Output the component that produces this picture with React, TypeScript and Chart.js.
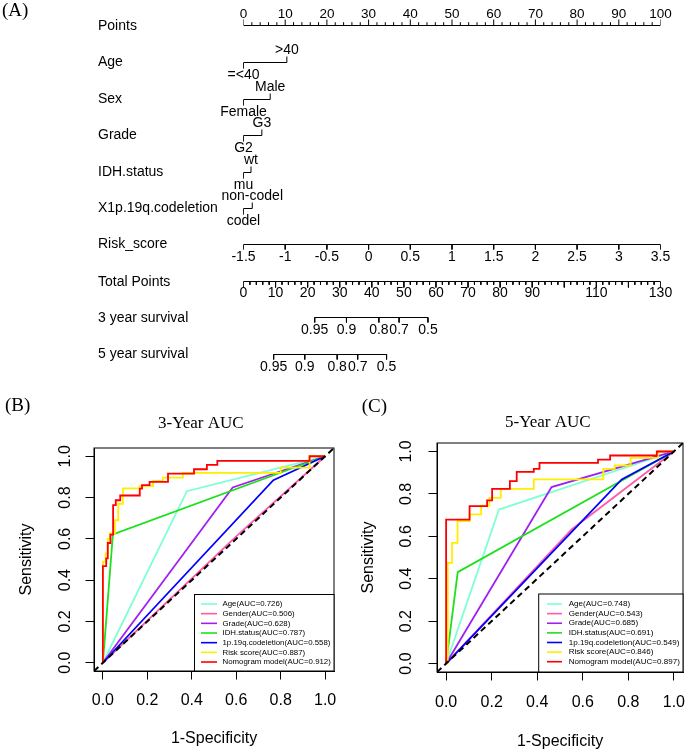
import React, { useEffect, useRef } from "react";
import { Chart, registerables } from "chart.js";

Chart.register(...registerables);

const SANS = '"Liberation Sans", Arial, Helvetica, sans-serif';
const SERIF = '"Liberation Serif", "Times New Roman", Times, serif';

/* ================= (A) Nomogram data ================= */
const pointsTicks = [0, 10, 20, 30, 40, 50, 60, 70, 80, 90, 100];
const ageLevels = ["=<40", ">40"];
const agePoints = [0, 10.4];
const sexLevels = ["Female", "Male"];
const sexPoints = [0, 6.4];
const gradeLevels = ["G2", "G3"];
const gradePoints = [0, 4.4];
const idhLevels = ["mu", "wt"];
const idhPoints = [0, 1.8];
const codelLevels = ["codel", "non-codel"];
const codelPoints = [0, 2.1];
const riskTicks = [-1.5, -1, -0.5, 0, 0.5, 1, 1.5, 2, 2.5, 3, 3.5];
const riskTickLabels = ["-1.5", "-1", "-0.5", "0", "0.5", "1", "1.5", "2", "2.5", "3", "3.5"];
const totalPointsRange = [0, 130];
const totalTickLabels = [0, 10, 20, 30, 40, 50, 60, 70, 80, 90, 110, 130];
const surv3Labels = ["0.95", "0.9", "0.8", "0.7", "0.5"];
const surv3TotalPoints = [22.2, 32.1, 42.2, 48.5, 57.5];
const surv5Labels = ["0.95", "0.9", "0.8", "0.7", "0.5"];
const surv5TotalPoints = [9.4, 19.1, 29.2, 35.6, 44.6];

/* ================= (B) 3-year ROC data ================= */
const bLegend = [
  "Age(AUC=0.726)",
  "Gender(AUC=0.506)",
  "Grade(AUC=0.628)",
  "IDH.status(AUC=0.787)",
  "1p.19q.codeletion(AUC=0.558)",
  "Risk score(AUC=0.887)",
  "Nomogram model(AUC=0.912)",
];
const bAgeFpr = [0, 0.378, 1];
const bAgeTpr = [0, 0.831, 1];
const bGenderFpr = [0, 0.6, 1];
const bGenderTpr = [0, 0.612, 1];
const bGradeFpr = [0, 0.584, 1];
const bGradeTpr = [0, 0.849, 1];
const bIdhFpr = [0, 0.045, 1];
const bIdhTpr = [0, 0.622, 1];
const bCodelFpr = [0, 0.767, 1];
const bCodelTpr = [0, 0.884, 1];
const bRiskFpr = [0, 0, 0.012, 0.012, 0.022, 0.022, 0.031, 0.031, 0.054, 0.054, 0.069, 0.069, 0.09, 0.09, 0.166, 0.166, 0.226, 0.226, 0.27, 0.27, 0.36, 0.36, 0.8, 0.8, 0.93, 0.93, 1];
const bRiskTpr = [0, 0.49, 0.49, 0.53, 0.53, 0.6, 0.6, 0.626, 0.626, 0.69, 0.69, 0.77, 0.77, 0.844, 0.844, 0.855, 0.855, 0.881, 0.881, 0.897, 0.897, 0.92, 0.92, 0.945, 0.945, 1, 1];
const bNomoFpr = [0, 0, 0.015, 0.015, 0.022, 0.022, 0.034, 0.034, 0.046, 0.046, 0.058, 0.058, 0.078, 0.078, 0.166, 0.166, 0.176, 0.176, 0.21, 0.21, 0.293, 0.293, 0.41, 0.41, 0.468, 0.468, 0.515, 0.515, 0.93, 0.93, 1];
const bNomoTpr = [0, 0.468, 0.468, 0.505, 0.505, 0.58, 0.58, 0.62, 0.62, 0.763, 0.763, 0.787, 0.787, 0.81, 0.81, 0.843, 0.843, 0.86, 0.86, 0.876, 0.876, 0.916, 0.916, 0.937, 0.937, 0.958, 0.958, 0.978, 0.978, 1, 1];

/* ================= (C) 5-year ROC data ================= */
const cLegend = [
  "Age(AUC=0.748)",
  "Gender(AUC=0.543)",
  "Grade(AUC=0.685)",
  "IDH.status(AUC=0.691)",
  "1p.19q.codeletion(AUC=0.549)",
  "Risk score(AUC=0.846)",
  "Nomogram model(AUC=0.897)",
];
const cAgeFpr = [0, 0.232, 1];
const cAgeTpr = [0, 0.726, 1];
const cGenderFpr = [0, 0.551, 1];
const cGenderTpr = [0, 0.632, 1];
const cGradeFpr = [0, 0.463, 1];
const cGradeTpr = [0, 0.832, 1];
const cIdhFpr = [0, 0.051, 1];
const cIdhTpr = [0, 0.431, 1];
const cCodelFpr = [0, 0.771, 1];
const cCodelTpr = [0, 0.868, 1];
const cRiskFpr = [0, 0.007, 0.007, 0.026, 0.026, 0.05, 0.05, 0.103, 0.103, 0.154, 0.154, 0.19, 0.19, 0.24, 0.24, 0.385, 0.385, 0.69, 0.69, 0.74, 0.74, 0.81, 0.81, 0.93, 0.93, 1];
const cRiskTpr = [0, 0, 0.475, 0.475, 0.569, 0.569, 0.672, 0.672, 0.703, 0.703, 0.745, 0.745, 0.781, 0.781, 0.824, 0.824, 0.868, 0.868, 0.918, 0.918, 0.934, 0.934, 0.97, 0.97, 1, 1];
const cNomoFpr = [0, 0, 0.103, 0.103, 0.18, 0.18, 0.202, 0.202, 0.28, 0.28, 0.31, 0.31, 0.385, 0.385, 0.41, 0.41, 0.667, 0.667, 0.72, 0.72, 0.925, 0.925, 1];
const cNomoTpr = [0, 0.679, 0.679, 0.742, 0.742, 0.769, 0.769, 0.824, 0.824, 0.86, 0.86, 0.904, 0.904, 0.918, 0.918, 0.946, 0.946, 0.962, 0.962, 0.981, 0.981, 1, 1];

const AXIS_TICKS = [0, 0.2, 0.4, 0.6, 0.8, 1.0];
const AXIS_MIN = -0.04;
const AXIS_MAX = 1.04;

const SERIES_COLORS = ["#7FFFD4", "#FF5AAC", "#A020F0", "#1FE01F", "#0000FF", "#FFEE00", "#FF0000"];

/* ================= Nomogram layout ================= */
const NOMO_W = 685;
const NOMO_H = 380;
const NOMO_LEFT = 243.5;
const NOMO_RIGHT = 660.5;
const ROW_LABEL_X = 98;
const ROW_Y = {
  points: 25.5,
  age: 62.5,
  sex: 99.5,
  grade: 135.5,
  idh: 172.5,
  codel: 208.5,
  risk: 244.5,
  total: 281.5,
  s3: 317.5,
  s5: 354.5,
};

type Pt = { x: number; y: number | null };

function segments(list: number[][]): Pt[] {
  const out: Pt[] = [];
  for (const [x1, y1, x2, y2] of list) {
    out.push({ x: x1, y: y1 }, { x: x2, y: y2 }, { x: x2, y: null });
  }
  return out;
}

function axisDataset(data: Pt[], xAxisID: string) {
  return {
    data,
    xAxisID,
    yAxisID: "y",
    showLine: true,
    spanGaps: false,
    borderColor: "#000",
    borderWidth: 1,
    pointRadius: 0,
    pointHoverRadius: 0,
    tension: 0,
    fill: false,
  };
}

const factorRows = [
  { name: "Age", levels: ageLevels, points: agePoints, y: ROW_Y.age },
  { name: "Sex", levels: sexLevels, points: sexPoints, y: ROW_Y.sex },
  { name: "Grade", levels: gradeLevels, points: gradePoints, y: ROW_Y.grade },
  { name: "IDH.status", levels: idhLevels, points: idhPoints, y: ROW_Y.idh },
  { name: "X1p.19q.codeletion", levels: codelLevels, points: codelPoints, y: ROW_Y.codel },
];

function buildNomogramConfig(): any {
  const datasets: any[] = [];
  // Points axis
  {
    const y = ROW_Y.points;
    const lo = pointsTicks[0];
    const hi = pointsTicks[pointsTicks.length - 1];
    const segs: number[][] = [[lo, y, hi, y]];
    for (let v = lo; v <= hi; v += 2) segs.push([v, y, v, y - (v % 10 === 0 ? 6 : 3.3)]);
    datasets.push(axisDataset(segments(segs), "x"));
  }
  // factor rows
  for (const r of factorRows) {
    const p0 = r.points[0];
    const p1 = r.points[1];
    datasets.push(
      axisDataset(
        segments([
          [p0, r.y, p1, r.y],
          [p0, r.y, p0, r.y + 6],
          [p1, r.y, p1, r.y - 6],
        ]),
        "x"
      )
    );
  }
  // Risk score axis
  {
    const y = ROW_Y.risk;
    const segs: number[][] = [[riskTicks[0], y, riskTicks[riskTicks.length - 1], y]];
    for (const t of riskTicks) segs.push([t, y, t, y + 5]);
    datasets.push(axisDataset(segments(segs), "xr"));
  }
  // Total points axis
  {
    const y = ROW_Y.total;
    const segs: number[][] = [[totalPointsRange[0], y, totalPointsRange[1], y]];
    for (let v = totalPointsRange[0]; v <= totalPointsRange[1]; v += 2) segs.push([v, y, v, y + (v % 10 === 0 ? 6 : 3.3)]);
    datasets.push(axisDataset(segments(segs), "xt"));
  }
  // survival axes
  for (const [pts, y] of [
    [surv3TotalPoints, ROW_Y.s3],
    [surv5TotalPoints, ROW_Y.s5],
  ] as [number[], number][]) {
    const segs: number[][] = [[pts[0], y, pts[pts.length - 1], y]];
    for (const p of pts) segs.push([p, y, p, y + 5]);
    datasets.push(axisDataset(segments(segs), "xt"));
  }

  const nomoText = {
    id: "nomoText",
    afterDatasetsDraw(chart: any) {
      const ctx = chart.ctx as CanvasRenderingContext2D;
      const xs = chart.scales.x;
      const xt = chart.scales.xt;
      const xr = chart.scales.xr;
      ctx.save();
      ctx.fillStyle = "#000";
      ctx.textBaseline = "middle";
      ctx.textAlign = "left";
      ctx.font = `19px ${SERIF}`;
      ctx.fillText("(A)", 2, 11);

      ctx.font = `14px ${SANS}`;
      const rowNames: [string, number][] = [
        ["Points", ROW_Y.points + 1],
        ...factorRows.map((r) => [r.name, r.y] as [string, number]),
        ["Risk_score", ROW_Y.risk],
        ["Total Points", ROW_Y.total + 0.5],
        ["3 year survival", ROW_Y.s3 + 0.5],
        ["5 year survival", ROW_Y.s5 - 0.5],
      ];
      for (const [n, y] of rowNames) ctx.fillText(n, ROW_LABEL_X, y);

      ctx.textAlign = "center";
      ctx.font = `13.5px ${SANS}`;
      for (const v of pointsTicks) ctx.fillText(String(v), xs.getPixelForValue(v), ROW_Y.points - 11.5);

      ctx.font = `14px ${SANS}`;
      for (const r of factorRows) {
        ctx.fillText(r.levels[0], xs.getPixelForValue(r.points[0]), r.y + 13);
        ctx.fillText(r.levels[1], xs.getPixelForValue(r.points[1]), r.y - 12.5);
      }
      riskTicks.forEach((t, i) => ctx.fillText(riskTickLabels[i], xr.getPixelForValue(t), ROW_Y.risk + 13));
      for (const v of totalTickLabels) ctx.fillText(String(v), xt.getPixelForValue(v), ROW_Y.total + 12);
      surv3TotalPoints.forEach((p, i) => ctx.fillText(surv3Labels[i], xt.getPixelForValue(p), ROW_Y.s3 + 12.5));
      surv5TotalPoints.forEach((p, i) => ctx.fillText(surv5Labels[i], xt.getPixelForValue(p), ROW_Y.s5 + 12.3));
      ctx.restore();
    },
  };

  return {
    type: "scatter",
    data: { datasets },
    options: {
      responsive: false,
      animation: false,
      events: [],
      layout: { padding: { left: NOMO_LEFT, right: NOMO_W - NOMO_RIGHT, top: 0, bottom: 0 } },
      plugins: { legend: { display: false }, tooltip: { enabled: false } },
      scales: {
        x: { type: "linear", axis: "x", min: pointsTicks[0], max: pointsTicks[pointsTicks.length - 1], display: false },
        xt: { type: "linear", axis: "x", min: totalPointsRange[0], max: totalPointsRange[1], display: false },
        xr: { type: "linear", axis: "x", min: riskTicks[0], max: riskTicks[riskTicks.length - 1], display: false },
        y: { type: "linear", axis: "y", min: 0, max: NOMO_H, reverse: true, display: false },
      },
    },
    plugins: [nomoText],
  };
}

/* ================= ROC panels ================= */
type Series = { label: string; color: string; fpr: number[]; tpr: number[] };
type Panel = {
  left: number;
  top: number;
  width: number;
  height: number;
  title: string;
  titleX: number;
  titleY: number;
  tag: string;
  tagX: number;
  tagY: number;
  area: { left: number; top: number; right: number; bottom: number };
  tickLen: number;
  xTickPad: number;
  yTickPad: number;
  xTitlePad: number;
  yTitlePad: number;
  legend: { left: number; top: number; firstY: number; step: number; x0: number; x1: number; textX: number; fontSize: number };
  series: Series[];
};

function makeSeries(labels: string[], fprs: number[][], tprs: number[][]): Series[] {
  return labels.map((label, i) => ({ label, color: SERIES_COLORS[i], fpr: fprs[i], tpr: tprs[i] }));
}

const panelB: Panel = {
  left: 0,
  top: 380,
  width: 343,
  height: 372,
  title: "3-Year AUC",
  titleX: 200.8,
  titleY: 43.3,
  tag: "(B)",
  tagX: 5,
  tagY: 25.8,
  area: { left: 94, top: 68, right: 334, bottom: 291 },
  tickLen: 8.5,
  xTickPad: 11.9,
  yTickPad: 8.9,
  xTitlePad: 3.4,
  yTitlePad: 17.4,
  legend: { left: 194.5, top: 214.5, firstY: 224, step: 9.67, x0: 201, x1: 217, textX: 222.5, fontSize: 7.85 },
  series: makeSeries(
    bLegend,
    [bAgeFpr, bGenderFpr, bGradeFpr, bIdhFpr, bCodelFpr, bRiskFpr, bNomoFpr],
    [bAgeTpr, bGenderTpr, bGradeTpr, bIdhTpr, bCodelTpr, bRiskTpr, bNomoTpr]
  ),
};

const panelC: Panel = {
  left: 343,
  top: 380,
  width: 342,
  height: 372,
  title: "5-Year AUC",
  titleX: 204.8,
  titleY: 43,
  tag: "(C)",
  tagX: 18.7,
  tagY: 26.7,
  area: { left: 94, top: 63, right: 340, bottom: 292 },
  tickLen: 8.5,
  xTickPad: 12.2,
  yTickPad: 10.7,
  xTitlePad: 0.4,
  yTitlePad: 16.2,
  legend: { left: 195.7, top: 214, firstY: 224, step: 9.62, x0: 204, x1: 219, textX: 225.7, fontSize: 8.05 },
  series: makeSeries(
    cLegend,
    [cAgeFpr, cGenderFpr, cGradeFpr, cIdhFpr, cCodelFpr, cRiskFpr, cNomoFpr],
    [cAgeTpr, cGenderTpr, cGradeTpr, cIdhTpr, cCodelTpr, cRiskTpr, cNomoTpr]
  ),
};

function rocDecor(p: Panel) {
  return {
    id: "rocDecor",
    afterDatasetsDraw(chart: any) {
      const ctx = chart.ctx as CanvasRenderingContext2D;
      const a = chart.chartArea;
      ctx.save();
      ctx.strokeStyle = "#000";
      ctx.lineWidth = 1;
      ctx.strokeRect(a.left, a.top, a.right - a.left, a.bottom - a.top);

      const lg = p.legend;
      ctx.fillStyle = "#fff";
      ctx.fillRect(lg.left, lg.top, a.right - lg.left, a.bottom - lg.top);
      ctx.strokeStyle = "#000";
      ctx.strokeRect(lg.left, lg.top, a.right - lg.left, a.bottom - lg.top);
      ctx.font = `${lg.fontSize}px ${SANS}`;
      ctx.textBaseline = "middle";
      ctx.textAlign = "left";
      p.series.forEach((s, i) => {
        const y = lg.firstY + i * lg.step;
        ctx.strokeStyle = s.color;
        ctx.lineWidth = 1.6;
        ctx.beginPath();
        ctx.moveTo(lg.x0, y);
        ctx.lineTo(lg.x1, y);
        ctx.stroke();
        ctx.fillStyle = "#000";
        ctx.fillText(s.label, lg.textX, y);
      });

      ctx.fillStyle = "#000";
      ctx.font = `17px ${SERIF}`;
      ctx.textAlign = "center";
      ctx.fillText(p.title, p.titleX, p.titleY);
      ctx.font = `19px ${SERIF}`;
      ctx.textAlign = "left";
      ctx.fillText(p.tag, p.tagX, p.tagY);
      ctx.restore();
    },
  };
}

function rocConfig(p: Panel): any {
  const A = p.area;
  const n = p.series.length;
  const datasets: any[] = p.series.map((s, i) => ({
    label: s.label,
    data: s.fpr.map((f, k) => ({ x: f, y: s.tpr[k] })),
    borderColor: s.color,
    borderWidth: 1.8,
    showLine: true,
    pointRadius: 0,
    pointHoverRadius: 0,
    tension: 0,
    fill: false,
    order: n - i,
  }));
  datasets.push({
    label: "reference",
    data: [
      { x: AXIS_MIN, y: AXIS_MIN },
      { x: AXIS_MAX, y: AXIS_MAX },
    ],
    borderColor: "#000",
    borderWidth: 2,
    borderDash: [6, 4],
    showLine: true,
    pointRadius: 0,
    pointHoverRadius: 0,
    tension: 0,
    fill: false,
    order: 0,
  });
  const fixTicks = (s: any) => {
    s.ticks = AXIS_TICKS.map((v) => ({ value: v }));
  };
  const grid = { display: true, drawOnChartArea: false, drawTicks: true, tickLength: p.tickLen, color: "#000", lineWidth: 1 };
  const font = { family: SANS, size: 16 };
  return {
    type: "scatter",
    data: { datasets },
    options: {
      responsive: false,
      animation: false,
      events: [],
      layout: { padding: { left: 0, top: A.top, right: p.width - A.right, bottom: 0 } },
      plugins: { legend: { display: false }, tooltip: { enabled: false }, title: { display: false } },
      scales: {
        x: {
          type: "linear",
          position: "bottom",
          min: AXIS_MIN,
          max: AXIS_MAX,
          afterBuildTicks: fixTicks,
          afterFit: (s: any) => {
            s.height = p.height - A.bottom;
            s.paddingLeft = 0;
            s.paddingRight = 0;
          },
          grid,
          border: { display: true, color: "#000", width: 1 },
          ticks: {
            autoSkip: false,
            minRotation: 0,
            maxRotation: 0,
            padding: p.xTickPad,
            color: "#000",
            font,
            callback: (v: any) => Number(v).toFixed(1),
          },
          title: { display: true, text: "1-Specificity", color: "#000", font, padding: { top: 0, bottom: p.xTitlePad } },
        },
        y: {
          type: "linear",
          position: "left",
          min: AXIS_MIN,
          max: AXIS_MAX,
          afterBuildTicks: fixTicks,
          afterFit: (s: any) => {
            s.width = A.left;
            s.paddingTop = 0;
            s.paddingBottom = 0;
          },
          grid,
          border: { display: true, color: "#000", width: 1 },
          ticks: {
            autoSkip: false,
            minRotation: 90,
            maxRotation: 90,
            crossAlign: "center",
            padding: p.yTickPad,
            color: "#000",
            font,
            callback: (v: any) => Number(v).toFixed(1),
          },
          title: { display: true, text: "Sensitivity", color: "#000", font, padding: { top: p.yTitlePad, bottom: 0 } },
        },
      },
    },
    plugins: [rocDecor(p)],
  };
}

function NomogramChart() {
  const ref = useRef<HTMLCanvasElement>(null);
  useEffect(() => {
    if (!ref.current) return;
    const chart = new Chart(ref.current, buildNomogramConfig());
    return () => chart.destroy();
  }, []);
  return (
    <canvas
      ref={ref}
      width={NOMO_W}
      height={NOMO_H}
      style={{ position: "absolute", left: 0, top: 0, width: NOMO_W, height: NOMO_H }}
    />
  );
}

function RocChart({ panel }: { panel: Panel }) {
  const ref = useRef<HTMLCanvasElement>(null);
  useEffect(() => {
    if (!ref.current) return;
    const chart = new Chart(ref.current, rocConfig(panel));
    return () => chart.destroy();
  }, [panel]);
  return (
    <canvas
      ref={ref}
      width={panel.width}
      height={panel.height}
      style={{ position: "absolute", left: panel.left, top: panel.top, width: panel.width, height: panel.height }}
    />
  );
}

export default function App() {
  return (
    <div
      style={{
        position: "absolute",
        left: 0,
        top: 0,
        width: 685,
        height: 752,
        background: "#fff",
        overflow: "hidden",
      }}
    >
      <NomogramChart />
      <RocChart panel={panelB} />
      <RocChart panel={panelC} />
    </div>
  );
}
